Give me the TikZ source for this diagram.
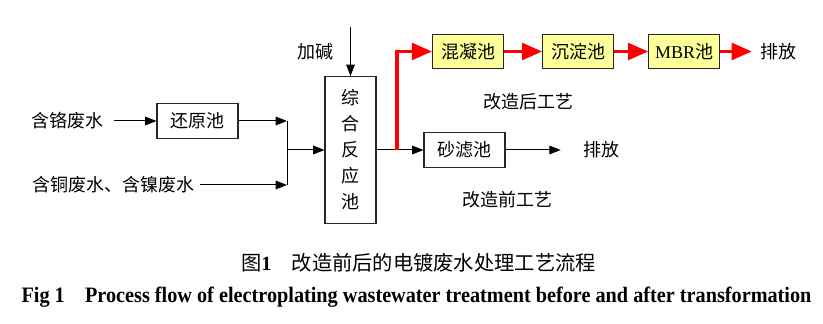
\documentclass[tikz,border=0pt]{standalone}
\usepackage{fontspec}
\setmainfont{Liberation Serif}
\newfontfamily\cjk{Noto Sans CJK SC}
\usetikzlibrary{arrows.meta, positioning}
\definecolor{poolyellow}{RGB}{255,255,153}

\begin{document}
\begin{tikzpicture}[
    x=0.75pt, y=0.75pt,
    pool/.style={rectangle, draw=black!85, line width=0.8pt, minimum width=60.75pt, minimum height=26pt, inner sep=0pt, text centered, font=\cjk\fontsize{13.5}{16}\selectfont},
    newpool/.style={pool, fill=poolyellow, minimum width=53.25pt},
    tag/.style={inner sep=0pt, font=\cjk\fontsize{13.5}{16}\selectfont},
    arrow/.style={line width=0.75pt, -{Triangle[length=8.5pt, width=6.5pt]}},
    redarrow/.style={red, line width=2.5pt, -{Triangle[length=15pt, width=12.5pt]}}]
\useasboundingbox (0,0) rectangle (823,324);
\node (react) [pool, minimum width=38.25pt, minimum height=110.25pt, align=center, font=\cjk\fontsize{13.5}{19.5}\selectfont] at (350.5,174) {综\\合\\反\\应\\池};
\node (reduce) [pool] at (197.5,203) {还原池};
\node (src1) [tag] at (67,203) {含铬废水};
\node (src2) [tag] at (113,139) {含铜废水、含镍废水};
\node (alkali) [tag] at (315,272) {加碱};
\coordinate (alkalitop) at (350.5,297);
\coordinate (join) at (287,174);
\coordinate (split) at (397,174);
\node (sand) [pool] at (464.5,174) {砂滤池};
\node (out1) [tag] at (601,174) {排放};
\node (before) [tag] at (507,124) {改造前工艺};
\node (coag) [newpool] at (468,272.5) {混凝池};
\node (settle) [newpool, right=28.5pt of coag] {沉淀池};
\node (mbr) [newpool, right=25.5pt of settle] {{\rmfamily MBR}池};
\node (out2) [tag] at (778,272.5) {排放};
\node (after) [tag] at (528,222) {改造后工艺};
\node (capcn) [font=\cjk\fontsize{15.2}{18}\selectfont] at (418.5,61) {图{\rmfamily\bfseries 1}\quad 改造前后的电镀废水处理工艺流程};
\node (capen) [font=\bfseries\fontsize{16.5}{19}\selectfont] at (416.5,27) {\scalebox{0.92}[1]{Fig 1\quad Process flow of electroplating wastewater treatment before and after transformation}};
\draw [arrow, shorten <=8pt] (src1) -- (reduce);
\draw [arrow] (reduce.east) -- (reduce.east -| join);
\draw [arrow, shorten <=4pt] (src2) -- (src2 -| join);
\draw (reduce.east -| join) -- (src2 -| join);
\draw [arrow] (join) -- (react);
\draw [arrow] (alkalitop) -- (react);
\draw [arrow] (react) -- (sand);
\draw [arrow, shorten >=16.5pt] (sand) -- (out1);
\draw [redarrow] (split) |- (coag);
\draw [redarrow] (coag) -- (settle);
\draw [redarrow] (settle) -- (mbr);
\draw [redarrow, shorten >=6pt] (mbr) -- (out2);
\end{tikzpicture}
\end{document}
